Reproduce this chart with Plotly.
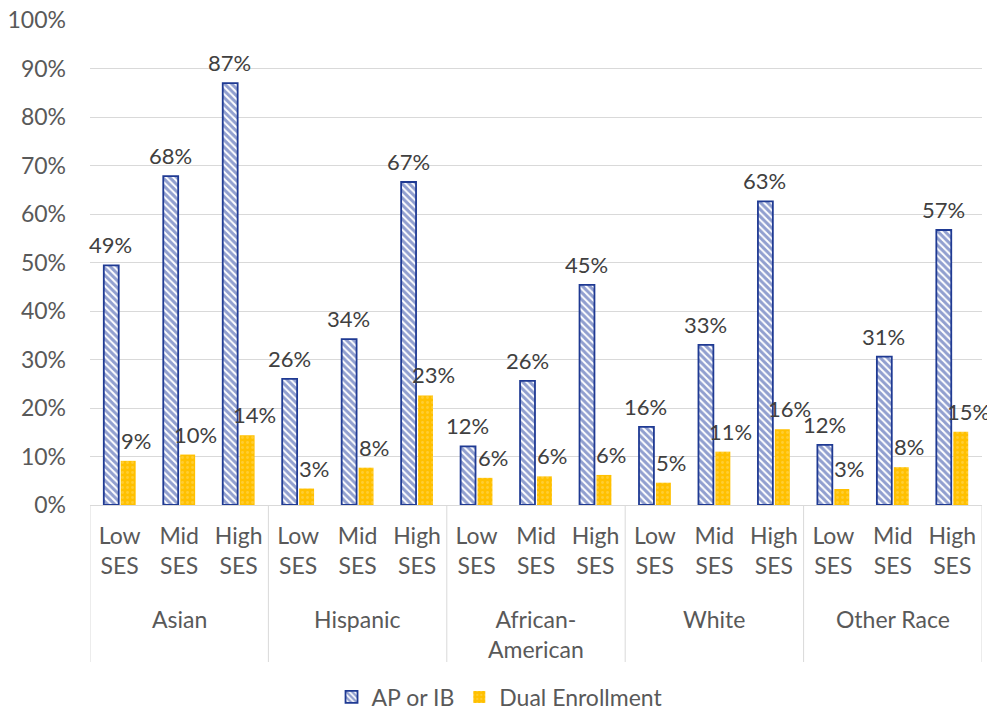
import plotly.graph_objects as go

groups = ["Asian", "Hispanic", "African-<br>American", "White", "Other Race"]
ses_levels = ["Low<br>SES", "Mid<br>SES", "High<br>SES"]

ap_ib = [49.4, 67.8, 87.0, 26.0, 34.2, 66.6, 12.1, 25.6, 45.4, 16.1, 33.0, 62.6, 12.4, 30.6, 56.7]
dual = [9.1, 10.4, 14.4, 3.4, 7.7, 22.6, 5.6, 5.9, 6.2, 4.6, 11.0, 15.6, 3.3, 7.8, 15.1]

y_ticks = list(range(0, 101, 10))

n_ses = len(ses_levels)
x_idx = list(range(len(groups) * n_ses))
x_ticktext = [s for _ in groups for s in ses_levels]

TXT = "#404040"
AXT = "#595959"
FONT = "Lato"
FS = 23
FS_LBL = 22

# the page body adds an 8px margin, so the figure is sized to fit inside it
W, H = 987, 706
M_L, M_R, M_T, M_B = 82, 13, 12, 209
PLOT_H = H - M_T - M_B

fig = go.Figure()
fig.add_trace(go.Bar(
    x=x_idx, y=ap_ib, name="AP or IB",
    marker=dict(color="white", line=dict(color="#1F3A93", width=1.8),
                pattern=dict(shape="\\", fgcolor="#23409F", bgcolor="white", size=5, solidity=0.6)),
))
fig.add_trace(go.Bar(
    x=x_idx, y=dual, name="Dual Enrollment",
    marker=dict(color="#FFC000", line=dict(color="#FFC000", width=0),
                pattern=dict(shape=".", fgcolor="#FFDA66", bgcolor="#FFC000", size=5, solidity=0.25)),
))

ann = []
for i, v in zip(x_idx, ap_ib):
    ann.append(dict(x=i, y=v, xref="x", yref="y", text=f"{v:.0f}%", showarrow=False,
                    yanchor="bottom", xanchor="center", xshift=-9, yshift=5,
                    font=dict(family=FONT, size=FS_LBL, color=TXT)))
for i, v in zip(x_idx, dual):
    ann.append(dict(x=i, y=v, xref="x", yref="y", text=f"{v:.0f}%", showarrow=False,
                    yanchor="bottom", xanchor="center", xshift=16, yshift=5,
                    font=dict(family=FONT, size=FS_LBL, color=TXT)))

# group labels under the SES tick labels
for gi, g in enumerate(groups):
    center = gi * n_ses + (n_ses - 1) / 2
    ann.append(dict(x=center, y=-98 / PLOT_H, xref="x", yref="paper", text=g,
                    showarrow=False, yanchor="top", xanchor="center", align="center",
                    font=dict(family=FONT, size=FS, color=AXT)))

# group dividers
shapes = []
for gi in range(len(groups) + 1):
    xd = gi * n_ses - 0.5
    shapes.append(dict(type="line", xref="x", yref="paper", x0=xd, x1=xd,
                       y0=0, y1=-157 / PLOT_H,
                       line=dict(color="#D9D9D9", width=1)))

fig.update_layout(
    width=W, height=H,
    margin=dict(l=M_L, r=M_R, t=M_T, b=M_B, autoexpand=False),
    paper_bgcolor="white", plot_bgcolor="white",
    barmode="group", bargap=0.43, bargroupgap=0.12,
    font=dict(family=FONT, size=FS, color=TXT),
    showlegend=True,
    legend=dict(orientation="h", xref="container", x=0.498, xanchor="center",
                y=-192 / PLOT_H, yanchor="middle",
                font=dict(family=FONT, size=FS, color=AXT), itemwidth=30),
    annotations=ann,
    shapes=shapes,
)
fig.update_yaxes(range=[0, 100], tickvals=y_ticks, ticktext=[f"{t}%" for t in y_ticks],
                 showgrid=True, gridcolor="#D9D9D9", gridwidth=1, zeroline=False,
                 showline=False, ticks="", tickfont=dict(family=FONT, size=FS, color=AXT),
                 ticklabelstandoff=23, ticklabeloverflow="allow", automargin=False)
fig.update_xaxes(range=[-0.5, len(x_idx) - 0.5], tickvals=x_idx, ticktext=x_ticktext,
                 showline=True, linecolor="#D9D9D9", linewidth=1, showgrid=False, zeroline=False,
                 tickfont=dict(family=FONT, size=FS, color=AXT), ticks="", tickangle=0,
                 ticklabelstandoff=10, automargin=False)

fig.write_html("out.html")
